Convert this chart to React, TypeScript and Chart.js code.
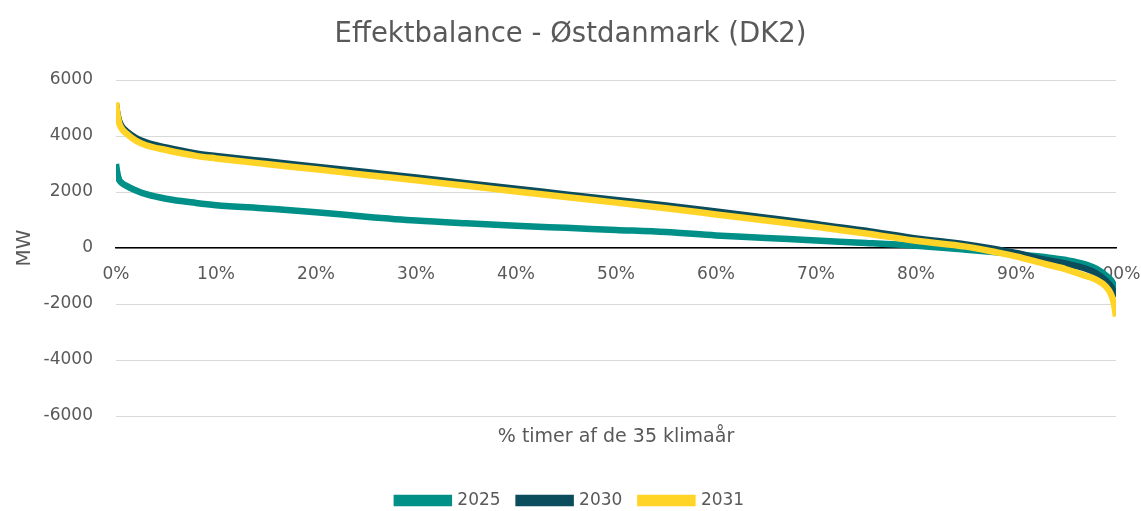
import React, { useEffect, useRef } from "react";
import { Chart, registerables } from "chart.js";

Chart.register(...registerables);

const TITLE = "Effektbalance - Østdanmark (DK2)";
const X_TITLE = "% timer af de 35 klimaår";
const Y_TITLE = "MW";
const SERIES_NAMES = ["2025", "2030", "2031"];
const SERIES_COLORS = ["#009088", "#0B4D5C", "#FFD426"];

// percentile of hours (x positions)
const pct = [0, 0.1, 0.3, 0.6, 1, 2, 3, 5, 8, 10, 15, 20, 25, 30, 35, 40, 45, 50, 55, 60, 65, 70, 75, 80, 85, 88, 90, 93, 95, 97, 98, 99, 99.5, 99.8, 100];

const s2025 = [3000, 2750, 2450, 2320, 2230, 2050, 1920, 1760, 1610, 1530, 1410, 1280, 1120, 980, 880, 795, 720, 645, 570, 450, 360, 265, 180, 80, -60, -150, -220, -330, -430, -590, -740, -980, -1150, -1330, -1480];
const s2030 = [5150, 4880, 4560, 4330, 4180, 3930, 3770, 3590, 3380, 3290, 3095, 2905, 2715, 2515, 2315, 2115, 1915, 1715, 1515, 1300, 1080, 855, 615, 340, 130, -40, -180, -430, -560, -740, -900, -1170, -1380, -1580, -1750];
const s2031 = [5200, 4880, 4480, 4250, 4100, 3830, 3670, 3500, 3290, 3200, 3000, 2810, 2610, 2420, 2220, 2020, 1820, 1620, 1420, 1200, 980, 760, 520, 260, 50, -150, -300, -580, -760, -1000, -1130, -1380, -1650, -2000, -2450];

const Y_MIN = -6000;
const Y_MAX = 6000;
const Y_STEP = 2000;
const X_TICKS_STEP = 10;

const FONT = "'DejaVu Sans', sans-serif";
const GREY = "#595959";

export default function App() {
  const ref = useRef<HTMLCanvasElement | null>(null);
  useEffect(() => {
    if (!ref.current) return;
    const all = [s2025, s2030, s2031];
    const chart = new Chart(ref.current, {
      type: "line",
      data: {
        datasets: all.map((s, i) => ({
          label: SERIES_NAMES[i],
          data: pct.map((x, j) => ({ x, y: s[j] })),
          borderColor: SERIES_COLORS[i],
          backgroundColor: SERIES_COLORS[i],
          borderWidth: 6.5,
          pointRadius: 0,
          cubicInterpolationMode: "monotone" as const,
          xAxisID: "x",
          yAxisID: "y",
          order: 3 - i,
        })),
      },
      options: {
        responsive: false,
        animation: false,
        layout: { padding: { left: 0, right: 0, top: 0, bottom: -8 } },
        plugins: {
          title: {
            display: true,
            text: TITLE,
            color: GREY,
            font: { family: FONT, size: 27.5, weight: "normal" },
            padding: { top: 18, bottom: 29 },
          },
          legend: {
            position: "bottom",
            labels: {
              color: GREY,
              font: { family: FONT, size: 17 },
              boxWidth: 52,
              boxHeight: 5,
              padding: 18,
              sort: (a: any, b: any) => a.datasetIndex - b.datasetIndex,
            },
          },
          tooltip: { enabled: false },
        },
        scales: {
          x: {
            type: "linear",
            position: { y: 0 } as any,
            min: 0,
            max: 100,
            grid: { display: false, drawTicks: false },
            border: { display: true, color: "#000000", width: 1.5 },
            ticks: {
              stepSize: X_TICKS_STEP,
              color: GREY,
              font: { family: FONT, size: 17 },
              padding: 16,
              maxRotation: 0,
              callback: (v: any) => `${v}%`,
            },
            afterFit: (s: any) => {
              s.paddingLeft = 0;
              s.paddingRight = 25;
            },
          },
          x2: {
            type: "linear",
            position: "bottom",
            axis: "x",
            min: 0,
            max: 100,
            grid: { display: false, drawTicks: false },
            border: { display: false },
            ticks: { display: false },
            title: {
              display: true,
              text: X_TITLE,
              color: GREY,
              font: { family: FONT, size: 19 },
              padding: { top: 0, bottom: 26 },
            },
            afterFit: (s: any) => {
              s.height = 58;
              s.paddingLeft = 0;
              s.paddingRight = 0;
            },
          },
          y: {
            min: Y_MIN,
            max: Y_MAX,
            grid: { color: "#D9D9D9", lineWidth: 1, drawTicks: false },
            border: { display: false },
            ticks: {
              stepSize: Y_STEP,
              color: GREY,
              font: { family: FONT, size: 17 },
              padding: 23,
              callback: (v: any) => String(v),
            },
            title: {
              display: true,
              text: Y_TITLE,
              color: GREY,
              font: { family: FONT, size: 20 },
              padding: { top: 13, bottom: 0 },
            },
            afterFit: (s: any) => {
              s.width = 116;
            },
          },
        },
      },
    } as any);
    return () => chart.destroy();
  }, []);
  return (
    <div style={{ position: "absolute", left: 0, top: 0, width: 1141, height: 511, background: "#fff" }}>
      <canvas ref={ref} width={1141} height={511} style={{ display: "block" }} />
    </div>
  );
}
